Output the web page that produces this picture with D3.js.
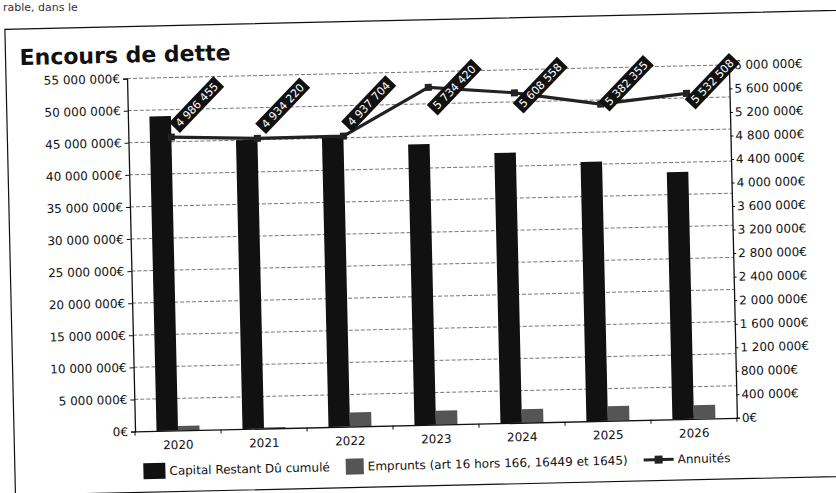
<!DOCTYPE html>
<html>
<head>
<meta charset="utf-8">
<script src="https://cdn.jsdelivr.net/npm/d3@7"></script>
<style>
  body { margin: 0; background: #fff; }
  text { font-family: "DejaVu Sans", sans-serif; }
</style>
</head>
<body>
<svg id="chart" width="836" height="493"></svg>
<script>
// data
const years = ["2020", "2021", "2022", "2023", "2024", "2025", "2026"];
const capital = [49000000, 45000000, 45100000, 43750000, 42100000, 40400000, 38500000];
const emprunts = [700000, 150000, 2200000, 2150000, 2100000, 2250000, 2100000];
const annuites = [4986455, 4934220, 4937704, 5734420, 5608558, 5382355, 5532508];
const leftTicks = [0, 5000000, 10000000, 15000000, 20000000, 25000000, 30000000, 35000000, 40000000, 45000000, 50000000, 55000000];
const rightTicks = [0, 400000, 800000, 1200000, 1600000, 2000000, 2400000, 2800000, 3200000, 3600000, 4000000, 4400000, 4800000, 5200000, 5600000, 6000000];
const seriesNames = ["Capital Restant Dû cumulé", "Emprunts (art 16 hors 166, 16449 et 1645)", "Annuités"];

const W = 836, H = 493;
const margin = {left: 131, right: 103, top: 72, bottom: 68};
const plotW = W - margin.left - margin.right;
const plotH = H - margin.top - margin.bottom;

// french style thousands: "55 000 000€"
const fmt = v => d3.format(",")(v).replace(/,/g, " ");
const euro = v => fmt(v) + "€";

let svg = d3.select("#chart");

// bit of the page text above the chart
svg.append("text")
  .attr("x", 3).attr("y", 11)
  .attr("font-size", 11)
  .attr("fill", "#333")
  .text("rable, dans le");

// the scan is a little tilted
let root = svg.append("g").attr("transform", "rotate(-1.3, 418, 250)");

// frame of the chart
root.append("rect")
  .attr("x", 10).attr("y", 20)
  .attr("width", 900).attr("height", 466)
  .attr("fill", "none")
  .attr("stroke", "#111")
  .attr("stroke-width", 1.2);

root.append("text")
  .attr("x", 24).attr("y", 56)
  .attr("font-size", 22)
  .attr("font-weight", "bold")
  .attr("fill", "#111")
  .text("Encours de dette");

let g = root.append("g").attr("transform", `translate(${margin.left},${margin.top})`);

let x = d3.scaleBand().domain(years).range([0, plotW]);
let xInner = d3.scaleBand().domain(["capital", "emprunts"])
  .range([x.bandwidth() * 0.25, x.bandwidth() * 0.75]);
let yLeft = d3.scaleLinear().domain([0, 55000000]).range([plotH, 0]);
let yRight = d3.scaleLinear().domain([0, 6000000]).range([plotH, 0]);

// dashed grid on the left axis ticks
g.append("g")
  .selectAll("line")
  .data(leftTicks.slice(1))
  .join("line")
  .attr("x1", 0).attr("x2", plotW)
  .attr("y1", d => yLeft(d)).attr("y2", d => yLeft(d))
  .attr("stroke", "#555")
  .attr("stroke-width", 0.8)
  .attr("stroke-dasharray", "4,2");

// bars
let groups = g.append("g")
  .selectAll("g")
  .data(years)
  .join("g")
  .attr("transform", d => `translate(${x(d)},0)`);

groups.append("rect")
  .attr("x", xInner("capital"))
  .attr("width", xInner.bandwidth())
  .attr("y", (d, i) => yLeft(capital[i]))
  .attr("height", (d, i) => plotH - yLeft(capital[i]))
  .attr("fill", "#111");

groups.append("rect")
  .attr("x", xInner("emprunts"))
  .attr("width", xInner.bandwidth())
  .attr("y", (d, i) => yLeft(emprunts[i]))
  .attr("height", (d, i) => plotH - yLeft(emprunts[i]))
  .attr("fill", "#555");

// axes
let leftAxis = d3.axisLeft(yLeft).tickValues(leftTicks).tickFormat(euro).tickSize(4).tickPadding(3);
let rightAxis = d3.axisRight(yRight).tickValues(rightTicks).tickFormat(euro).tickSize(3).tickPadding(2);
let bottomAxis = d3.axisBottom(x).tickSize(0).tickPadding(10);

let gl = g.append("g").call(leftAxis);
let gr = g.append("g").attr("transform", `translate(${plotW},0)`).call(rightAxis);
let gb = g.append("g").attr("transform", `translate(0,${plotH})`).call(bottomAxis);

[gl, gr, gb].forEach(a => {
  a.select(".domain").attr("stroke", "#111").attr("stroke-width", 1.3);
  a.selectAll(".tick line").attr("stroke", "#111");
  a.selectAll("text")
    .attr("font-family", "DejaVu Sans")
    .attr("font-size", 12)
    .attr("fill", "#111");
});

// little ticks between the year bands
gb.append("g")
  .selectAll("line")
  .data(years.concat(["end"]))
  .join("line")
  .attr("x1", (d, i) => i * x.step()).attr("x2", (d, i) => i * x.step())
  .attr("y1", 0).attr("y2", 4)
  .attr("stroke", "#111");

// annuités line on the right axis
let line = d3.line()
  .x((d, i) => x(years[i]) + x.bandwidth() / 2)
  .y(d => yRight(d));

g.append("path")
  .datum(annuites)
  .attr("d", line)
  .attr("fill", "none")
  .attr("stroke", "#222")
  .attr("stroke-width", 3.2);

g.append("g")
  .selectAll("rect")
  .data(annuites)
  .join("rect")
  .attr("x", (d, i) => x(years[i]) + x.bandwidth() / 2 - 3.5)
  .attr("y", d => yRight(d) - 3.5)
  .attr("width", 7).attr("height", 7)
  .attr("fill", "#222");

// rotated value labels, white on black
let labels = g.append("g")
  .selectAll("g")
  .data(annuites)
  .join("g")
  .attr("transform", (d, i) => {
    let px = x(years[i]) + x.bandwidth() / 2 + 26;
    let py = Math.max(yRight(d) - 32, 16);
    return `translate(${px},${py}) rotate(-45)`;
  });

labels.append("text")
  .attr("text-anchor", "middle")
  .attr("dy", "0.36em")
  .attr("font-size", 11)
  .attr("fill", "#fff")
  .text(d => fmt(d));

labels.each(function() {
  let t = d3.select(this).select("text");
  let w = t.node().getComputedTextLength() + 8;
  d3.select(this).insert("rect", "text")
    .attr("x", -w / 2).attr("y", -7.5)
    .attr("width", w).attr("height", 15)
    .attr("fill", "#111");
});

// legend under the plot
let legend = root.append("g").attr("transform", "translate(0,465)");
let items = legend.selectAll("g")
  .data(seriesNames)
  .join("g");

items.append("text")
  .attr("font-size", 12)
  .attr("dy", "0.35em")
  .attr("fill", "#111")
  .text(d => d);

let symW = [22, 18, 30];
let gaps = 16;
let widths = [];
items.each(function(d, i) {
  widths.push(symW[i] + 4 + d3.select(this).select("text").node().getComputedTextLength());
});
let total = d3.sum(widths) + gaps * (widths.length - 1);
let cursor = margin.left + plotW / 2 - total / 2;

items.each(function(d, i) {
  let it = d3.select(this).attr("transform", `translate(${cursor},0)`);
  it.select("text").attr("x", symW[i] + 4);
  if (i === 0) {
    it.append("rect").attr("x", 0).attr("y", -8).attr("width", 22).attr("height", 16).attr("fill", "#111");
  } else if (i === 1) {
    it.append("rect").attr("x", 0).attr("y", -8).attr("width", 18).attr("height", 16).attr("fill", "#555");
  } else {
    it.append("line").attr("x1", 0).attr("x2", 30).attr("y1", 0).attr("y2", 0)
      .attr("stroke", "#222").attr("stroke-width", 3);
    it.append("rect").attr("x", 11).attr("y", -4).attr("width", 8).attr("height", 8).attr("fill", "#222");
  }
  cursor += widths[i] + gaps;
});
</script>
</body>
</html>
